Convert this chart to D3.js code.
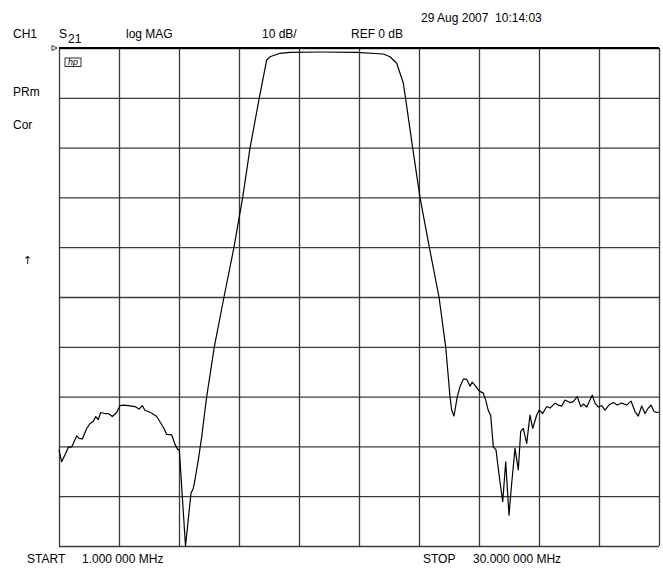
<!DOCTYPE html>
<html>
<head>
<meta charset="utf-8">
<script src="https://cdn.jsdelivr.net/npm/d3@7"></script>
<style>
body { margin: 0; background: #fff; }
svg { display: block; font-family: 'Liberation Sans', Arial, sans-serif; }
text { fill: #000; white-space: pre; }
</style>
</head>
<body>
<div id="chart"></div>
<script>

// S21 trace, frequency in MHz
var freqMHz = [
	1.000, 1.130, 1.290, 1.449, 1.614, 1.855, 1.967, 2.126, 2.339, 2.498,
	2.658, 2.774, 2.899, 3.016, 3.223, 3.383, 3.576, 3.789, 3.948, 4.108,
	4.349, 4.673, 4.867, 5.026, 5.157, 5.316, 5.509, 5.722, 5.930, 6.089,
	6.205, 6.447, 6.607, 6.737, 6.815, 7.114, 7.380, 7.491, 7.573, 7.733,
	7.897, 8.057, 8.139, 8.506, 8.975, 9.458, 9.879, 10.232, 10.681, 11.039,
	11.198, 11.682, 12.165, 13.615, 15.389, 16.674, 16.998, 17.322, 17.641, 17.747,
	18.095, 18.448, 18.898, 19.367, 19.690, 19.898, 19.980, 20.091, 20.251, 20.382,
	20.541, 20.705, 20.865, 20.976, 21.155, 21.315, 21.508, 21.624, 21.750, 21.866,
	21.991, 22.122, 22.281, 22.446, 22.591, 22.750, 22.880, 23.040, 23.200, 23.315,
	23.441, 23.605, 23.765, 23.895, 24.089, 24.214, 24.379, 24.572, 24.732, 24.973,
	25.133, 25.297, 25.457, 25.698, 25.858, 26.051, 26.215, 26.341, 26.505, 26.665,
	26.776, 26.907, 27.066, 27.230, 27.390, 27.583, 27.791, 27.984, 28.197, 28.439,
	28.647, 28.840, 29.000, 29.164, 29.323, 29.483, 29.613, 29.758, 29.889, 30.000
]

// log MAG, dB
var s21dB = [
	-80.7, -83.1, -81.7, -80.2, -80.1, -77.9, -78.4, -78.5, -76.4, -75.4,
	-75.0, -74.0, -74.6, -73.2, -73.4, -73.4, -74.0, -73.2, -71.8, -71.7,
	-71.8, -72.0, -72.5, -71.8, -72.8, -73.0, -73.4, -74.0, -75.4, -76.5,
	-77.6, -77.7, -79.6, -80.6, -80.7, -100.0, -89.4, -88.4, -86.7, -82.7,
	-78.1, -72.7, -70.0, -60.0, -50.0, -40.0, -30.0, -20.1, -10.0, -2.4,
	-1.75, -1.06, -0.86, -0.80, -0.86, -1.20, -1.75, -3.07, -7.03, -10.0,
	-20.1, -30.0, -40.0, -50.0, -60.0, -70.0, -72.7, -73.9, -70.0, -68.0,
	-66.5, -66.5, -67.9, -67.1, -68.0, -68.9, -69.3, -70.7, -72.8, -73.8,
	-80.1, -80.7, -86.1, -91.1, -83.1, -93.8, -87.4, -80.4, -84.7, -77.0,
	-76.4, -79.4, -73.7, -76.4, -73.7, -72.7, -73.4, -72.0, -72.3, -71.3,
	-71.7, -71.9, -70.7, -71.2, -71.0, -70.0, -72.0, -71.5, -72.1, -70.7,
	-69.7, -71.3, -72.1, -71.8, -72.7, -71.7, -71.2, -71.7, -71.3, -71.7,
	-70.9, -73.0, -73.9, -71.9, -73.4, -72.3, -71.7, -73.0, -73.2, -73.1
]

var startMHz = 1
var stopMHz = 30
var refDB = 0
var dBperDiv = 10
var divisions = 10

var headerLabels = ['CH1', 'log MAG', '10 dB/', 'REF 0 dB']
var sideLabels = ['PRm', 'Cor']
var dateLabel = '29 Aug 2007  10:14:03'
var startLabel = ['START', '1.000 000 MHz']
var stopLabel = ['STOP', '30.000 000 MHz']

var W = 663, H = 568
var margin = { top: 48, left: 59, right: 4, bottom: 22 }
var width = W - margin.left - margin.right
var height = H - margin.top - margin.bottom

var svg = d3.select('#chart').append('svg')
	.attr('width', W)
	.attr('height', H)

var xScale = d3.scaleLinear()
	.domain([startMHz, stopMHz])
	.range([0, width])

var yScale = d3.scaleLinear()
	.domain([refDB - dBperDiv * divisions, refDB])
	.range([height, 0])

var xGrid = d3.axisBottom(xScale)
	.tickValues(d3.range(divisions + 1).map(function(i) { return startMHz + i * (stopMHz - startMHz) / divisions }))
	.tickSizeInner(-height)
	.tickSizeOuter(0)
	.tickFormat('')

var yGrid = d3.axisLeft(yScale)
	.tickValues(d3.range(divisions + 1).map(function(i) { return refDB - i * dBperDiv }))
	.tickSizeInner(-width)
	.tickSizeOuter(0)
	.tickFormat('')

var plot = svg.append('g')
	.attr('transform', 'translate(' + margin.left + ',' + margin.top + ')')

plot.append('g')
	.attr('class', 'grid')
	.attr('transform', 'translate(0,' + height + ')')
	.call(xGrid)
plot.append('g')
	.attr('class', 'grid')
	.call(yGrid)
plot.selectAll('.grid .domain').remove()
plot.selectAll('.grid line')
	.attr('stroke', '#3a3a3a')
	.attr('stroke-width', 1.3)

// heavier top edge
plot.append('line')
	.attr('x1', 0).attr('x2', width)
	.attr('y1', yScale(refDB)).attr('y2', yScale(refDB))
	.attr('stroke', '#000')
	.attr('stroke-width', 2)

var line = d3.line()
	.x(function(d) { return xScale(d[0]) })
	.y(function(d) { return yScale(d[1]) })

plot.append('path')
	.datum(d3.zip(freqMHz, s21dB))
	.attr('fill', 'none')
	.attr('stroke', '#000')
	.attr('stroke-width', 1.2)
	.attr('stroke-linejoin', 'round')
	.attr('d', line)

// reference position marker
plot.append('path')
	.attr('d', 'M-7,' + (yScale(refDB) - 2.5) + 'L-2,' + yScale(refDB) + 'L-7,' + (yScale(refDB) + 2.5) + 'Z')
	.attr('fill', '#fff')
	.attr('stroke', '#000')
	.attr('stroke-width', 0.8)

// hp logo
var logo = plot.append('g').attr('transform', 'translate(6,10)')
logo.append('rect')
	.attr('width', 16).attr('height', 8.5)
	.attr('fill', 'none')
	.attr('stroke', '#000')
	.attr('stroke-width', 0.8)
logo.append('text')
	.attr('x', 8).attr('y', 7.2)
	.attr('text-anchor', 'middle')
	.style('font-size', '9px')
	.style('font-style', 'italic')
	.text('hp')

// header texts
var fs = '12px'
svg.append('text').attr('x', 13).attr('y', 38).style('font-size', fs).text(headerLabels[0])
var s = svg.append('text').attr('x', 59).attr('y', 38).style('font-size', fs)
s.append('tspan').text('S')
s.append('tspan').attr('dx', 1).attr('dy', 5).text('21')
svg.append('text').attr('x', 126).attr('y', 38).style('font-size', fs).text(headerLabels[1])
svg.append('text').attr('x', 262).attr('y', 38).style('font-size', fs).text(headerLabels[2])
svg.append('text').attr('x', 351).attr('y', 38).style('font-size', fs).text(headerLabels[3])
svg.append('text').attr('x', 421).attr('y', 22).style('font-size', fs).text(dateLabel)

svg.append('text').attr('x', 13).attr('y', 96).style('font-size', fs).text(sideLabels[0])
svg.append('text').attr('x', 13).attr('y', 129).style('font-size', fs).text(sideLabels[1])
svg.append('text').attr('x', 23).attr('y', 264)
	.style('font-family', "'DejaVu Sans', sans-serif")
	.style('font-size', '11px')
	.text('\u2191')

svg.append('text').attr('x', 27).attr('y', 563).style('font-size', fs).text(startLabel[0])
svg.append('text').attr('x', 82).attr('y', 563).style('font-size', fs).text(startLabel[1])
svg.append('text').attr('x', 423).attr('y', 563).style('font-size', fs).text(stopLabel[0])
svg.append('text').attr('x', 473).attr('y', 563).style('font-size', fs).text(stopLabel[1])

</script>
</body>
</html>
